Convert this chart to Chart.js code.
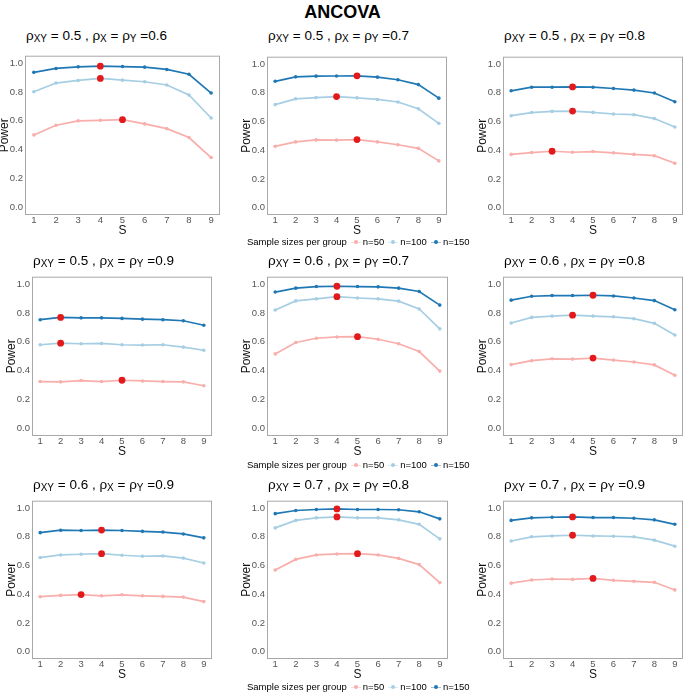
<!DOCTYPE html>
<html>
<head>
<meta charset="utf-8">
<script src="https://cdn.jsdelivr.net/npm/chart.js@4.4.0/dist/chart.umd.min.js"></script>
<style>
body{margin:0;background:#fff;width:685px;height:692px;position:relative;overflow:hidden;font-family:"Liberation Sans",Arial,sans-serif}
.main{position:absolute;left:0;top:2px;width:685px;text-align:center;font-weight:bold;font-size:18px;line-height:20px}
.ptitle{position:absolute;font-size:13.5px;line-height:16px;white-space:nowrap;color:#000}
.ptitle sub{font-size:0.74em;vertical-align:-0.22em;line-height:0}
canvas{position:absolute}
.legend{position:absolute;font-size:9.5px;line-height:14px;white-space:nowrap;color:#000;display:flex;align-items:center}
.key{display:inline-block;position:relative;width:10px;height:10px;margin:0 2px 0 4px}
.key b{position:absolute;left:0;right:0;top:4.5px;height:1px;opacity:.45}
.key i{position:absolute;left:3px;top:3px;width:4px;height:4px;border-radius:50%}
</style>
</head>
<body>
<div class="main">ANCOVA</div>
<script>
// S values on the x axis
const S = [1, 2, 3, 4, 5, 6, 7, 8, 9];
const sizes = ["n=50", "n=100", "n=150"];
const sizeColors = ["#f8aeab", "#a6cee3", "#1f78b4"];
const bestColor = "#e31a1c";

// panel parameters
const rhoXY = ["0.5", "0.5", "0.5", "0.5", "0.6", "0.6", "0.6", "0.7", "0.7"];
const rhoXandY = ["0.6", "0.7", "0.8", "0.9", "0.7", "0.8", "0.9", "0.8", "0.9"];

// power by S, one row per panel
const n50 = [
  [0.503, 0.570, 0.600, 0.604, 0.608, 0.579, 0.546, 0.485, 0.347],
  [0.427, 0.458, 0.472, 0.470, 0.474, 0.458, 0.438, 0.413, 0.326],
  [0.371, 0.384, 0.393, 0.386, 0.391, 0.382, 0.371, 0.362, 0.310],
  [0.326, 0.324, 0.333, 0.326, 0.335, 0.330, 0.326, 0.324, 0.297],
  [0.517, 0.596, 0.625, 0.634, 0.636, 0.618, 0.587, 0.533, 0.398],
  [0.443, 0.470, 0.483, 0.481, 0.488, 0.474, 0.461, 0.441, 0.369],
  [0.383, 0.392, 0.398, 0.389, 0.396, 0.389, 0.385, 0.380, 0.349],
  [0.568, 0.642, 0.673, 0.680, 0.682, 0.673, 0.649, 0.606, 0.481],
  [0.477, 0.499, 0.506, 0.503, 0.510, 0.497, 0.490, 0.483, 0.430]
];
const n100 = [
  [0.801, 0.861, 0.879, 0.893, 0.881, 0.870, 0.848, 0.779, 0.620],
  [0.717, 0.757, 0.766, 0.773, 0.764, 0.753, 0.735, 0.688, 0.587],
  [0.640, 0.662, 0.670, 0.672, 0.663, 0.652, 0.647, 0.620, 0.562],
  [0.580, 0.591, 0.587, 0.589, 0.580, 0.578, 0.580, 0.564, 0.542],
  [0.820, 0.883, 0.897, 0.912, 0.903, 0.897, 0.881, 0.827, 0.690],
  [0.730, 0.769, 0.778, 0.784, 0.778, 0.773, 0.760, 0.728, 0.647],
  [0.655, 0.673, 0.678, 0.682, 0.671, 0.664, 0.666, 0.651, 0.617],
  [0.861, 0.913, 0.931, 0.937, 0.931, 0.931, 0.917, 0.886, 0.785],
  [0.770, 0.799, 0.805, 0.810, 0.805, 0.803, 0.799, 0.776, 0.734]
];
const n150 = [
  [0.935, 0.962, 0.973, 0.978, 0.975, 0.971, 0.955, 0.922, 0.792],
  [0.879, 0.910, 0.915, 0.916, 0.917, 0.908, 0.890, 0.856, 0.762],
  [0.813, 0.838, 0.838, 0.840, 0.838, 0.829, 0.818, 0.798, 0.737],
  [0.753, 0.769, 0.766, 0.766, 0.762, 0.757, 0.753, 0.746, 0.715],
  [0.944, 0.971, 0.982, 0.984, 0.982, 0.980, 0.971, 0.948, 0.854],
  [0.888, 0.915, 0.920, 0.920, 0.922, 0.917, 0.903, 0.885, 0.822],
  [0.828, 0.845, 0.843, 0.846, 0.843, 0.837, 0.832, 0.819, 0.792],
  [0.960, 0.982, 0.989, 0.993, 0.989, 0.989, 0.987, 0.973, 0.924],
  [0.913, 0.931, 0.935, 0.937, 0.933, 0.933, 0.928, 0.917, 0.886]
];
// S with the highest power (red points)
const best50 = [5, 5, 3, 5, 5, 5, 3, 5, 5];
const best100 = [4, 4, 4, 2, 4, 4, 4, 4, 4];
const best150 = [4, 5, 4, 2, 4, 5, 4, 4, 4];

// plot boxes [left, top, right, bottom]
const boxes = [
  [25, 51, 221, 215], [267, 52, 448, 215], [503, 52, 684, 215],
  [32, 272, 213, 436], [267, 272, 449, 436], [503, 272, 684, 436],
  [32, 496, 213, 659], [267, 496, 449, 659], [503, 496, 684, 659]
];
const titleY = [36, 261, 485];
const legendY = [242, 465, 687];

Chart.defaults.font.family = '"Liberation Sans", Arial, sans-serif';

const frame = {
  id: "frame",
  afterDraw(chart) {
    const a = chart.chartArea, ctx = chart.ctx;
    ctx.save();
    ctx.strokeStyle = "#a8a8a8";
    ctx.lineWidth = 1;
    ctx.strokeRect(a.left + 0.5, a.top + 0.5, a.right - a.left - 1, a.bottom - a.top - 1);
    ctx.restore();
  }
};

function series(vals) {
  return S.map((s, j) => ({ x: s, y: vals[j] }));
}

for (let i = 0; i < 9; i++) {
  const [bl, bt, br, bb] = boxes[i];
  const yw = 32, xh = 27, pt = 3, pr = 3;
  const cv = document.createElement("canvas");
  cv.width = yw + (br - bl) + pr;
  cv.height = pt + (bb - bt) + xh;
  cv.style.left = (bl - yw) + "px";
  cv.style.top = (bt - pt) + "px";
  document.body.appendChild(cv);

  const t = document.createElement("div");
  t.className = "ptitle";
  t.style.left = (bl + 1) + "px";
  t.style.top = (titleY[Math.floor(i / 3)] - 8) + "px";
  t.innerHTML = "ρ<sub>XY</sub> = " + rhoXY[i] + " , ρ<sub>X</sub> = ρ<sub>Y</sub> =" + rhoXandY[i];
  document.body.appendChild(t);

  const bestPts = [
    { x: best150[i], y: n150[i][best150[i] - 1] },
    { x: best100[i], y: n100[i][best100[i] - 1] },
    { x: best50[i], y: n50[i][best50[i] - 1] }
  ];
  const lineSet = (vals, c) => ({
    data: series(vals), borderColor: c, backgroundColor: c,
    borderWidth: 1.7, pointRadius: 1.8, pointBorderWidth: 0, tension: 0
  });

  new Chart(cv, {
    type: "line",
    data: {
      datasets: [
        { data: bestPts, showLine: false, backgroundColor: bestColor, borderColor: bestColor,
          pointRadius: 3.4, pointBorderWidth: 0 },
        lineSet(n150[i], sizeColors[2]),
        lineSet(n100[i], sizeColors[1]),
        lineSet(n50[i], sizeColors[0])
      ]
    },
    options: {
      responsive: false,
      animation: false,
      events: [],
      layout: { padding: { top: pt, right: pr, left: 0, bottom: 0 } },
      plugins: { legend: { display: false }, tooltip: { enabled: false } },
      scales: {
        x: {
          type: "linear", min: 0.6, max: 9.4,
          grid: { display: false, drawTicks: false },
          border: { display: false },
          ticks: { stepSize: 1, includeBounds: false, padding: 0, color: "#555", font: { size: 9.5 } },
          title: { display: true, text: "S", color: "#111", font: { size: 12 } },
          afterFit(s) { s.height = xh; }
        },
        y: {
          min: -0.05, max: 1.05,
          grid: { display: false, drawTicks: false },
          border: { display: false },
          ticks: { stepSize: 0.2, includeBounds: false, padding: 2, color: "#555", font: { size: 9.5 },
            callback: v => v.toFixed(1) },
          title: { display: true, text: "Power", color: "#111", font: { size: 12 } },
          afterFit(s) { s.width = yw; }
        }
      }
    },
    plugins: [frame]
  });
}

// legends under the middle column
legendY.forEach(y => {
  const lg = document.createElement("div");
  lg.className = "legend";
  lg.style.left = "247px";
  lg.style.top = (y - 7) + "px";
  let html = "<span>Sample sizes per group</span>";
  sizes.forEach((s, k) => {
    html += '<span class="key"><b style="background:' + sizeColors[k] + '"></b><i style="background:' +
      sizeColors[k] + '"></i></span><span>' + s + "</span>";
  });
  lg.innerHTML = html;
  document.body.appendChild(lg);
});
</script>
</body>
</html>
